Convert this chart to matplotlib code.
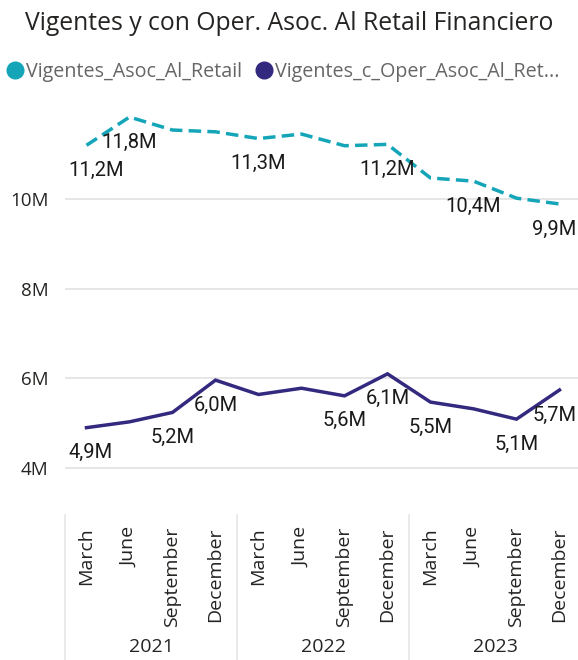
#!/usr/bin/env python3
"""Vigentes y con Oper. Asoc. Al Retail Financiero - line chart, Power BI look."""
import matplotlib
matplotlib.use("Agg")
import matplotlib.pyplot as plt
from matplotlib.lines import Line2D
import matplotlib.transforms as mtrans

# ---------- data (millions) ----------
years = ["2021", "2022", "2023"]
months = ["March", "June", "September", "December"]
retail = [11.2, 11.83, 11.54, 11.5, 11.35, 11.45, 11.19, 11.22, 10.47, 10.4, 10.02, 9.89]
oper = [4.9, 5.03, 5.24, 5.96, 5.64, 5.78, 5.61, 6.1, 5.47, 5.32, 5.09, 5.74]
# which points get a data label (as in the report)
retail_lbl = [0, 1, 4, 7, 9, 11]
oper_lbl = [0, 2, 3, 6, 7, 8, 10, 11]
yticks = [4, 6, 8, 10]

TEAL = "#14A6B8"
PURPLE = "#33297F"
GRID = "#E6E6E6"
TXT = "#252423"
LEG = "#666666"

W, H = 578, 660
fig = plt.figure(figsize=(W / 100, H / 100), dpi=100)
plt.rcParams["font.family"] = ["Open Sans", "DejaVu Sans"]

# plot area in pixels: x 65..581, y 100..510
ax = fig.add_axes([65 / W, 1 - 510 / H, (581 - 65) / W, (510 - 100) / H])
x = list(range(len(retail)))

ax.plot(x, retail, color=TEAL, lw=2.5, linestyle=(0, (3.6, 1.8)), solid_capstyle="butt")
ax.plot(x, oper, color=PURPLE, lw=2.5, solid_joinstyle="miter")

ax.set_xlim(-0.5, 11.5)
ax.set_ylim(3.063, 12.21)
ax.set_yticks(yticks)
ax.set_yticklabels([f"{v}M" for v in yticks], fontsize=13.5, color=TXT)
ax.tick_params(axis="y", length=0, pad=12)
ax.set_xticks([])
ax.grid(axis="y", color=GRID, linewidth=1.4)
ax.set_axisbelow(True)
for s in ax.spines.values():
    s.set_visible(False)


def fmt(v):
    return f"{v:.1f}M".replace(".", ",")


last = len(retail) - 1
for series, idxs in ((retail, retail_lbl), (oper, oper_lbl)):
    for i in idxs:
        ha, dx = "center", 0
        if i == 0:
            ha, dx = "left", -13
        elif i == last:
            ha, dx = "right", 12
        ax.annotate(fmt(series[i]), (x[i], series[i]), xytext=(dx, -18),
                    textcoords="offset points", ha=ha, va="center",
                    fontsize=14.5, color="#1A1A1A", family=["Roboto", "DejaVu Sans"],
                    annotation_clip=False)

# hierarchical x axis
trans = mtrans.blended_transform_factory(ax.transData, fig.transFigure)
for i, lab in enumerate(months * len(years)):
    ax.text(x[i], 1 - 527 / H, lab, transform=trans, rotation=90, ha="center",
            va="top", fontsize=14, color=TXT)
for k, yr in enumerate(years):
    ax.text(k * 4 + 1.5, 1 - 647 / H, yr, transform=trans, ha="center",
            va="center", fontsize=14, color=TXT)
    ax.add_line(Line2D([k * 4 - 0.5, k * 4 - 0.5], [1 - 515 / H, 0], transform=trans,
                       color=GRID, lw=1.2, clip_on=False))

# title and legend
fig.text(0.5, 1 - 23 / H, "Vigentes y con Oper. Asoc. Al Retail Financiero",
         ha="center", va="center", fontsize=17.8, color=TXT)
handles = [Line2D([], [], marker="o", ls="", color=TEAL, markersize=12),
           Line2D([], [], marker="o", ls="", color=PURPLE, markersize=12)]
leg = fig.legend(handles, ["Vigentes_Asoc_Al_Retail", "Vigentes_c_Oper_Asoc_Al_Ret..."],
                 loc="center left", bbox_to_anchor=(0 / W, 1 - 72 / H), ncol=2,
                 frameon=False, fontsize=14.2, handletextpad=0.0, columnspacing=0.6,
                 handlelength=1.1, borderaxespad=0, borderpad=0.2)
for t in leg.get_texts():
    t.set_color(LEG)

fig.savefig("out.png", dpi=100, facecolor="white")
